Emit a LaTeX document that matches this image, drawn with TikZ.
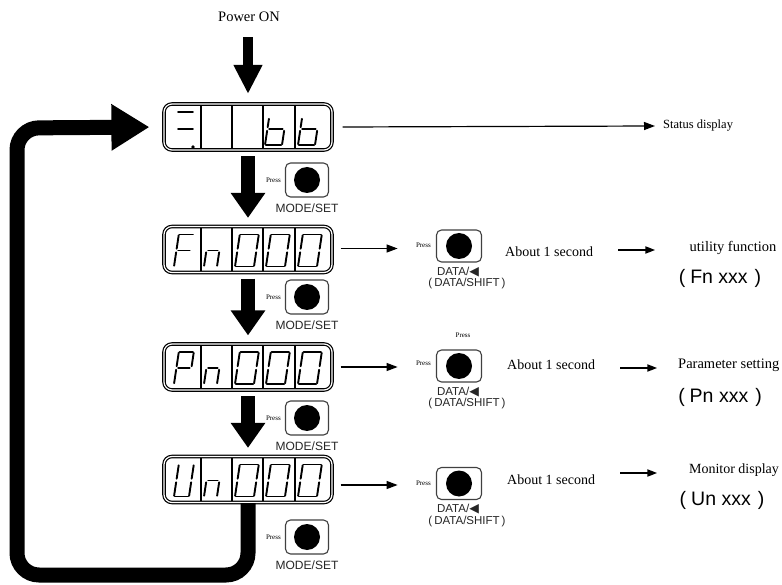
\documentclass[tikz,border=0pt]{standalone}
\usepackage{fontspec}
\setmainfont{Liberation Serif}
\setsansfont{Liberation Sans}
\newfontfamily\symfont{DejaVu Sans}
\usetikzlibrary{arrows.meta}

\newcommand\dgc{0.8}
\newcommand\dgm{1.8}
\newcommand\dsegA{\draw[seg] (\dgc,\dgH)--({\dgW-\dgc},\dgH);}
\newcommand\dsegB{\draw[seg] (\dgW,{\dgH-\dgc})--(\dgW,{\dgM+\dgm});}
\newcommand\dsegC{\draw[seg] (\dgW,{\dgM-\dgm})--(\dgW,\dgc);}
\newcommand\dsegD{\draw[seg] (\dgc,0)--({\dgW-\dgc},0);}
\newcommand\dsegE{\draw[seg] (0,\dgc)--(0,{\dgM-\dgm});}
\newcommand\dsegF{\draw[seg] (0,{\dgM+\dgm})--(0,{\dgH-\dgc});}
\newcommand\dsegG{\draw[seg] (\dgm,\dgM)--({\dgW-\dgm},\dgM);}
\newcommand\sevseg[6]{%
  \begin{scope}[shift={(#1,#2)},y=1pt,xslant=0.15]
    \def\dgW{#3}\def\dgH{#4}\def\dgM{#5}%
    \foreach \sg in {#6}{\csname dseg\sg\endcsname}
  \end{scope}}

\begin{document}
\begin{tikzpicture}[x=1pt,y=-1pt,
  seg/.style={line width=1.9pt,line cap=round},
  display/.style={draw,line width=1.2pt,double,double distance=1.2pt,rounded corners=8pt,
    minimum width=168pt,minimum height=46pt,inner sep=0pt},
  divider/.style={line width=1.6pt,shorten <=2.4pt,shorten >=2.4pt},
  btn/.style={draw=black!75,line width=1.1pt,rounded corners=5pt,minimum width=43pt,
    minimum height=34pt,inner sep=0pt,
    path picture={\fill[black] (path picture bounding box.center) circle (13pt);}},
  dbtn/.style={btn,minimum width=45pt,minimum height=32pt},
  serif/.style={font=\fontsize{14}{16}\selectfont,inner sep=0pt},
  press/.style={font=\fontsize{7}{8}\selectfont,inner sep=0pt},
  modelbl/.style={font=\sffamily\fontsize{12}{14}\selectfont,text=black!85,inner sep=0pt},
  datalbl/.style={font=\sffamily\fontsize{11.5}{13}\selectfont,text=black!85,inner sep=0pt},
  codelbl/.style={font=\sffamily\fontsize{19.5}{21}\selectfont,inner sep=0pt},
  bigdown/.style={line width=14pt,-{Triangle[length=25pt,width=33pt]},shorten <=5.5pt,shorten >=8pt},
  powerdown/.style={line width=10pt,-{Triangle[length=29pt,width=27pt]},shorten <=15pt,shorten >=9.5pt},
  loopline/.style={line width=15pt,rounded corners=22pt,-{Triangle[length=38pt,width=44pt]},shorten >=14pt},
  thinarrow/.style={line width=1.2pt,-{Triangle[length=11pt,width=8pt]}},
  midarrow/.style={line width=2pt,-{Triangle[length=10pt,width=7pt]}}
]
\useasboundingbox[fill=white] (0,0) rectangle (782,585);

% title
\node[serif,font=\fontsize{14.5}{16}\selectfont] (pw) at (249,17) {Power ON};

% displays
\node[display] (st) at (248,127) {};
\node[display] (fn) at (248,249.5) {};
\node[display] (pn) at (248,367) {};
\node[display] (un) at (248,479.5) {};
\foreach \d in {st,fn,pn,un}{
  \foreach \dx in {-47,-16,15,47}{
    \draw[divider] ([xshift=\dx pt]\d.north) -- ([xshift=\dx pt]\d.south);}}

% status display digits
\draw[seg] (178,112)--(193,112);
\draw[seg] (178,129)--(193,129);
\fill (193,147) circle (1.8);
\sevseg{265}{145}{17}{27}{16}{F,E,D,C,G}
\sevseg{298}{145}{17}{27}{16}{F,E,D,C,G}

% Fn000
\sevseg{174}{266.5}{15}{32}{16}{A,F,E,G}
\sevseg{204}{266.5}{13}{32}{16}{G,E,C}
\foreach \xx in {235,266,298}{\sevseg{\xx}{266.5}{19}{32}{16}{A,B,C,D,E,F}}
% Pn000
\sevseg{174}{384}{15}{32}{16}{A,B,F,G,E}
\sevseg{204}{384}{13}{32}{16}{G,E,C}
\foreach \xx in {235,266,298}{\sevseg{\xx}{384}{19}{32}{16}{A,B,C,D,E,F}}
% Un000
\sevseg{174}{496.5}{15}{32}{16}{B,C,D,E,F}
\sevseg{204}{496.5}{13}{32}{16}{G,E,C}
\foreach \xx in {235,266,298}{\sevseg{\xx}{496.5}{19}{32}{16}{A,B,C,D,E,F}}

% vertical arrows
\draw[powerdown] (pw.south -| st.north) -- (st.north);
\draw[bigdown] (st.south) -- (fn.north);
\draw[bigdown] (fn.south) -- (pn.north);
\draw[bigdown] (pn.south) -- (un.north);

% return loop
\coordinate (lpa) at (248,575);
\coordinate (lpb) at (17,575);
\coordinate (lpc) at (17,128);
\draw[loopline] (un.south) -- (lpa) -- (lpb) -- (lpc) -- (st.west);

% MODE/SET buttons
\foreach \yy/\nm in {180/1,297/2,418/3,537/4}{
  \node[btn] (m\nm) at (307,\yy) {};
  \node[press,anchor=east] (mp\nm) at (281,\yy) {Press};
  \node[modelbl] (ml\nm) at (307,\yy+28) {MODE/SET};
}

% DATA buttons
\foreach \yy/\nm in {246/1,366/2,483.5/3}{
  \node[dbtn] (d\nm) at (459,\yy) {};
  \node[datalbl] (dl\nm) at (458,\yy+26) {DATA/{\symfont\fontsize{12.5}{13}\selectfont ◀}};
  \node[datalbl] (ds\nm) at (467,\yy+38) {(\kern2pt DATA/SHIFT\kern2pt)};
}
\node[press,anchor=east] (dp1) at (431,245) {Press};
\node[press,anchor=east] (dp2) at (431,363) {Press};
\node[press,anchor=east] (dp3) at (431,483) {Press};
\node[press] (dp2t) at (463,335) {Press};

% status line
\node[serif,font=\fontsize{12.5}{14}\selectfont,anchor=west] (sd) at (663,126) {Status display};
\draw[thinarrow] ([xshift=10pt]st.east) -- ([xshift=-8pt]sd.west);

% row arrows to DATA buttons
\draw[thinarrow] ([xshift=8pt,yshift=1pt]fn.east) -- ++(57,0);
\draw[thinarrow] ([xshift=8pt]pn.east) -- ++(57,0);
\draw[thinarrow] ([xshift=8pt,yshift=-5.5pt]un.east) -- ++(57,0);

% About 1 second
\node[serif,anchor=west] (ab1) at (505,252) {About 1 second};
\node[serif,anchor=west] (ab2) at (507,365) {About 1 second};
\node[serif,anchor=west] (ab3) at (507,480) {About 1 second};

% results
\node[serif,font=\fontsize{14.5}{16}\selectfont] (uf) at (733,248) {utility function};
\node[codelbl] (fx) at (720,278) {(\kern5pt Fn xxx\kern7pt)};
\node[serif,font=\fontsize{14.5}{16}\selectfont,anchor=west] (ps) at (678,365) {Parameter setting};
\node[codelbl] (px) at (720,397) {(\kern5pt Pn xxx\kern7pt)};
\node[serif] (md) at (734,470) {Monitor display};
\node[codelbl] (ux) at (722,500) {(\kern5pt Un xxx\kern7pt)};

\draw[midarrow] ([xshift=25pt,yshift=2pt]ab1.east) -- ++(37,0);
\draw[midarrow] ([xshift=25pt,yshift=-3pt]ab2.east) -- ++(37,0);
\draw[midarrow] ([xshift=25pt,yshift=7pt]ab3.east) -- ++(37,0);
\end{tikzpicture}
\end{document}
